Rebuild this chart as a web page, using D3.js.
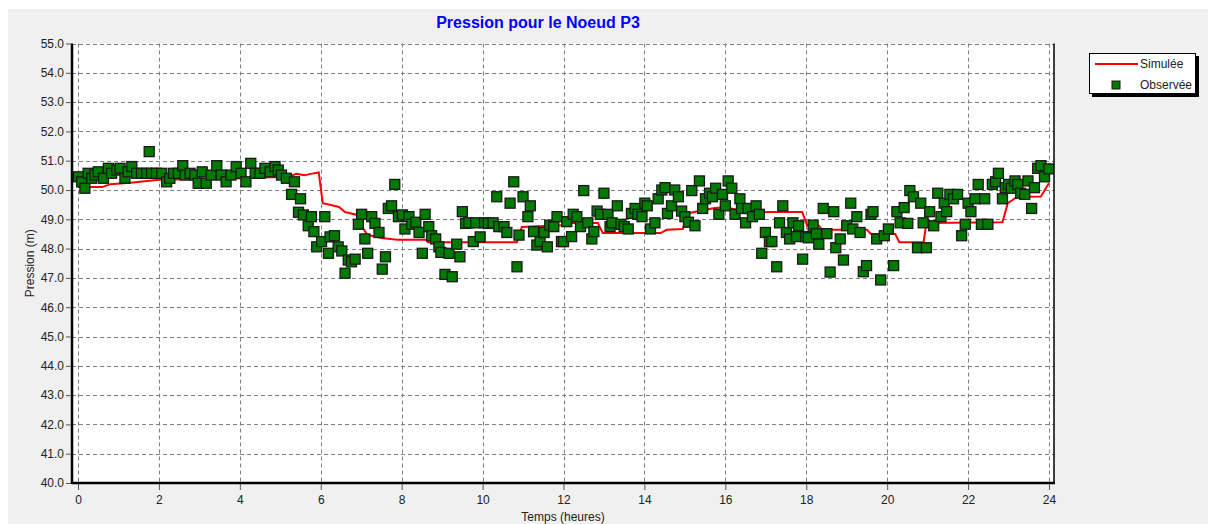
<!DOCTYPE html>
<html>
<head>
<meta charset="utf-8">
<script src="https://cdn.jsdelivr.net/npm/d3@7"></script>
<style>
  html, body { margin: 0; padding: 0; background: #fff; }
  svg { display: block; font-family: Arial, 'Liberation Sans', sans-serif; }
</style>
</head>
<body>
<svg id="chart" width="1208" height="524"></svg>
<script>
// simulated pressure (red line)
const simT = [0, 0.6, 0.8, 1.3, 2.0, 4.0, 5.2, 5.4, 5.6, 5.75, 5.95, 6.05, 6.25, 6.45, 6.6, 6.9, 7.0, 7.15, 7.5, 7.9, 8.6, 8.65,
  10.85, 10.97, 11.95, 12.05, 12.85, 12.97, 14.4, 14.55, 14.95, 15.05, 15.7, 16.0, 16.5, 17.9, 18.02, 18.3, 18.4, 19.5, 19.6,
  20.2, 20.3, 20.9, 20.97, 22.85, 22.98, 23.1, 23.2, 23.8, 24.0];
const simP = [50.1, 50.1, 50.2, 50.25, 50.35, 50.4, 50.45, 50.55, 50.5, 50.55, 50.6, 49.55, 49.49, 49.42, 49.25, 49.15, 48.8, 48.47, 48.36, 48.3, 48.3, 48.22,
  48.22, 48.74, 48.8, 48.87, 48.87, 48.53, 48.53, 48.64, 48.67, 49.2, 49.38, 49.42, 49.25, 49.25, 48.8, 48.8, 48.64, 48.64, 48.5,
  48.5, 48.22, 48.22, 48.87, 48.9, 49.55, 49.66, 49.76, 49.78, 50.24];

// observed pressure (green squares)
const obsT = [0.01, 0.09, 0.17, 0.25, 0.34, 0.42, 0.5, 0.63, 0.75, 0.83, 0.96, 1.04, 1.16, 1.24, 1.33, 1.45, 1.57, 1.7, 1.76, 1.82, 1.94,
  2.07, 2.19, 2.27, 2.36, 2.48, 2.59, 2.65, 2.77, 2.89, 2.97, 3.07, 3.17, 3.29, 3.43, 3.54, 3.66, 3.78, 3.91,
  4.03, 4.15, 4.27, 4.38, 4.5, 4.62, 4.75, 4.87, 4.95, 5.03, 5.15, 5.28, 5.35, 5.45, 5.5, 5.57, 5.69, 5.77, 5.83, 5.9,
  6.02, 6.1, 6.19, 6.23, 6.34, 6.43, 6.52, 6.6, 6.68, 6.76, 6.85, 6.93, 7.01, 7.09, 7.16, 7.26, 7.34, 7.44, 7.52, 7.6, 7.67, 7.75, 7.83, 7.92,
  8.02, 8.08, 8.18, 8.25, 8.35, 8.43, 8.51, 8.58, 8.67, 8.74, 8.84, 8.92, 8.97, 9.07, 9.17, 9.25, 9.36, 9.44, 9.5, 9.58, 9.66, 9.77, 9.83, 9.94,
  10.05, 10.14, 10.26, 10.35, 10.4, 10.53, 10.6, 10.68, 10.77, 10.85, 10.9, 11.0, 11.12, 11.18, 11.26, 11.34, 11.42, 11.52, 11.6, 11.66, 11.76, 11.84, 11.95,
  12.0, 12.08, 12.2, 12.24, 12.33, 12.42, 12.5, 12.6, 12.7, 12.75, 12.83, 12.91, 13.0, 13.1, 13.15, 13.2, 13.33, 13.42, 13.5, 13.6, 13.68, 13.77, 13.84, 13.94,
  14.01, 14.07, 14.15, 14.26, 14.34, 14.43, 14.51, 14.57, 14.67, 14.75, 14.84, 14.92, 15.0, 15.09, 15.17, 15.25, 15.36, 15.44, 15.51, 15.61, 15.68, 15.76, 15.84, 15.93,
  16.0, 16.07, 16.16, 16.24, 16.36, 16.4, 16.5, 16.56, 16.67, 16.76, 16.84, 16.9, 16.99, 17.09, 17.15, 17.27, 17.34, 17.42, 17.51, 17.59, 17.67, 17.76, 17.81, 17.91, 17.99,
  18.05, 18.17, 18.25, 18.31, 18.42, 18.51, 18.59, 18.68, 18.73, 18.84, 18.92, 19.0, 19.1, 19.15, 19.25, 19.33, 19.41, 19.49, 19.6, 19.65, 19.74, 19.84, 19.93,
  20.03, 20.16, 20.24, 20.32, 20.42, 20.51, 20.56, 20.65, 20.75, 20.83, 20.89, 20.97, 21.05, 21.15, 21.25, 21.33, 21.41, 21.47, 21.55, 21.64, 21.74, 21.84, 21.93,
  22.0, 22.07, 22.17, 22.25, 22.33, 22.41, 22.49, 22.6, 22.68, 22.75, 22.85, 22.92, 23.0, 23.07, 23.16, 23.23, 23.3, 23.4, 23.48, 23.57, 23.64, 23.72, 23.8, 23.89, 24.0];
const obsP = [50.45, 50.28, 50.06, 50.57, 50.4, 50.51, 50.62, 50.4, 50.74, 50.57, 50.68, 50.74, 50.4, 50.62, 50.8, 50.57, 50.57, 50.57, 51.31, 50.57, 50.57,
  50.57, 50.28, 50.4, 50.57, 50.57, 50.83, 50.51, 50.57, 50.51, 50.23, 50.62, 50.23, 50.51, 50.83, 50.51, 50.28, 50.51, 50.8,
  50.57, 50.28, 50.91, 50.57, 50.57, 50.74, 50.62, 50.8, 50.68, 50.51, 50.4, 49.85, 50.28, 49.24, 49.7, 49.15, 48.78, 49.09, 48.58, 48.06,
  48.24, 49.09, 47.84, 48.4, 48.44, 48.06, 47.92, 47.16, 47.61, 47.55, 47.64, 48.83, 49.17, 48.33, 47.84, 49.09, 48.86, 48.55, 47.3, 47.72, 49.37, 49.46, 50.19, 49.09,
  49.15, 48.67, 49.09, 48.83, 48.9, 48.55, 47.84, 49.17, 48.75, 48.44, 48.33, 48.06, 47.87, 47.12, 47.84, 47.04, 48.15, 47.72, 49.26, 48.86, 48.88, 48.24, 48.88, 48.4,
  48.88, 48.86, 48.88, 49.77, 48.75, 48.75, 48.55, 49.55, 50.28, 47.38, 48.46, 49.77, 49.09, 49.46, 48.58, 48.12, 48.24, 48.55, 48.06, 48.8, 48.75, 49.09, 48.24,
  48.24, 48.92, 48.41, 49.17, 49.09, 48.75, 49.98, 48.88, 48.33, 48.58, 49.28, 49.17, 49.89, 49.17, 48.75, 48.88, 49.46, 48.83, 48.75, 48.67, 49.2, 49.37, 49.17, 49.09,
  49.55, 49.46, 48.67, 48.88, 49.7, 50.0, 50.08, 49.2, 49.46, 50.0, 49.77, 49.28, 49.09, 48.9, 49.98, 48.78, 50.31, 49.37, 49.7, 49.89, 49.77, 50.06, 49.17, 49.85,
  49.46, 50.31, 50.06, 49.17, 49.7, 49.37, 48.88, 49.37, 49.09, 49.46, 49.17, 47.84, 48.55, 48.24, 48.24, 47.38, 48.88, 49.46, 48.55, 48.33, 48.88, 48.41, 48.78, 47.64, 48.41,
  48.37, 48.8, 48.51, 48.15, 49.37, 48.51, 47.2, 49.26, 48.03, 48.33, 47.61, 48.78, 49.55, 48.67, 49.09, 48.55, 47.21, 47.42, 49.17, 49.26, 48.33, 46.93, 48.44,
  48.67, 47.42, 49.26, 48.88, 49.4, 48.86, 49.98, 49.77, 48.03, 49.55, 48.88, 48.03, 49.26, 48.78, 49.89, 49.09, 49.55, 49.26, 49.85, 49.7, 49.85, 48.44, 48.83,
  49.55, 49.26, 49.7, 50.19, 48.83, 49.7, 48.83, 50.19, 50.28, 50.57, 49.7, 50.08, 50.19, 50.06, 50.31, 50.19, 49.89, 49.85, 50.31, 49.37, 50.08, 50.74, 50.83, 50.45, 50.72];

const xTicks = [0, 2, 4, 6, 8, 10, 12, 14, 16, 18, 20, 22, 24];
const yTicks = [40, 41, 42, 43, 44, 45, 46, 47, 48, 49, 50, 51, 52, 53, 54, 55];

const svg = d3.select('#chart');
const frame = { left: 72, right: 1054, top: 43.5, bottom: 483 };

const x = d3.scaleLinear().domain([0, 24]).range([78, 1049]);
const y = d3.scaleLinear().domain([40, 55]).range([frame.bottom, frame.top]);

// background panel
svg.append('rect').attr('x', 8).attr('y', 9).attr('width', 1200).attr('height', 515).attr('fill', '#f0f0f0');
svg.append('rect')
  .attr('x', frame.left).attr('y', frame.top)
  .attr('width', frame.right - frame.left).attr('height', frame.bottom - frame.top)
  .attr('fill', '#fff');

// grid
const grid = svg.append('g').attr('stroke', '#808080').attr('stroke-dasharray', '4,3').attr('stroke-width', 1);
grid.selectAll('line.h').data(yTicks).enter().append('line')
  .attr('x1', frame.left).attr('x2', frame.right)
  .attr('y1', d => Math.round(y(d)) + 0.5).attr('y2', d => Math.round(y(d)) + 0.5);
grid.selectAll('line.v').data(xTicks).enter().append('line')
  .attr('y1', frame.top).attr('y2', frame.bottom)
  .attr('x1', d => Math.round(x(d)) + 0.5).attr('x2', d => Math.round(x(d)) + 0.5);

// clip for marks
svg.append('clipPath').attr('id', 'plotClip').append('rect')
  .attr('x', frame.left + 1).attr('y', frame.top - 6)
  .attr('width', frame.right - frame.left - 1).attr('height', frame.bottom - frame.top + 6);
const plot = svg.append('g').attr('clip-path', 'url(#plotClip)');

const line = d3.line().x(d => x(d[0])).y(d => y(d[1]));
plot.append('path')
  .datum(simT.map((t, i) => [t, simP[i]]))
  .attr('d', line)
  .attr('fill', 'none').attr('stroke', '#ff0000').attr('stroke-width', 2);

const sq = 10;
plot.selectAll('rect.obs').data(obsT.map((t, i) => [t, obsP[i]])).enter().append('rect')
  .attr('x', d => x(d[0]) - sq / 2).attr('y', d => y(d[1]) - sq / 2)
  .attr('width', sq).attr('height', sq)
  .attr('fill', '#007a00').attr('stroke', '#1a1a1a').attr('stroke-width', 1.3);

// frame lines
svg.append('line').attr('x1', frame.left).attr('x2', frame.left).attr('y1', frame.top).attr('y2', frame.bottom + 1)
  .attr('stroke', '#000').attr('stroke-width', 2.5);
svg.append('line').attr('x1', frame.left).attr('x2', frame.right + 1).attr('y1', frame.bottom).attr('y2', frame.bottom)
  .attr('stroke', '#000').attr('stroke-width', 2.5);
svg.append('line').attr('x1', frame.right).attr('x2', frame.right).attr('y1', frame.top).attr('y2', frame.bottom)
  .attr('stroke', '#000').attr('stroke-width', 1.5);

// axes
const yAxis = svg.append('g').attr('transform', `translate(${frame.left - 1},0)`)
  .call(d3.axisLeft(y).tickValues(yTicks).tickFormat(d3.format('.1f')).tickSize(5).tickPadding(2));
const xAxis = svg.append('g').attr('transform', `translate(0,${frame.bottom + 1})`)
  .call(d3.axisBottom(x).tickValues(xTicks).tickFormat(d3.format('d')).tickSize(6).tickPadding(5));
[yAxis, xAxis].forEach(a => {
  a.select('.domain').remove();
  a.selectAll('line').attr('stroke', '#555');
  a.selectAll('text').attr('fill', '#222').style('font-size', '12px');
});

// titles
svg.append('text').attr('x', 538).attr('y', 28).attr('text-anchor', 'middle')
  .attr('fill', '#0000ff').style('font-size', '16px').style('font-weight', 'bold')
  .text('Pression pour le Noeud P3');
svg.append('text').attr('transform', `translate(34,${(frame.top + frame.bottom) / 2}) rotate(-90)`)
  .attr('text-anchor', 'middle').attr('fill', '#222').style('font-size', '12px')
  .text('Pression (m)');
svg.append('text').attr('x', (frame.left + frame.right) / 2).attr('y', 521)
  .attr('text-anchor', 'middle').attr('fill', '#222').style('font-size', '12px')
  .text('Temps (heures)');

// legend
const lg = svg.append('g');
lg.append('rect').attr('x', 1092).attr('y', 56).attr('width', 107).attr('height', 41).attr('fill', '#000');
lg.append('rect').attr('x', 1089.5).attr('y', 53.5).attr('width', 106).attr('height', 40)
  .attr('fill', '#fff').attr('stroke', '#000').attr('stroke-width', 1);
lg.append('line').attr('x1', 1095).attr('x2', 1138).attr('y1', 64).attr('y2', 64)
  .attr('stroke', '#ff0000').attr('stroke-width', 2);
lg.append('rect').attr('x', 1112).attr('y', 81).attr('width', 8).attr('height', 8)
  .attr('fill', '#007a00').attr('stroke', '#1a1a1a').attr('stroke-width', 1);
lg.append('text').attr('x', 1140).attr('y', 68).attr('fill', '#222').style('font-size', '12px').text('Simulée');
lg.append('text').attr('x', 1140).attr('y', 89).attr('fill', '#222').style('font-size', '12px').text('Observée');
</script>
</body>
</html>
